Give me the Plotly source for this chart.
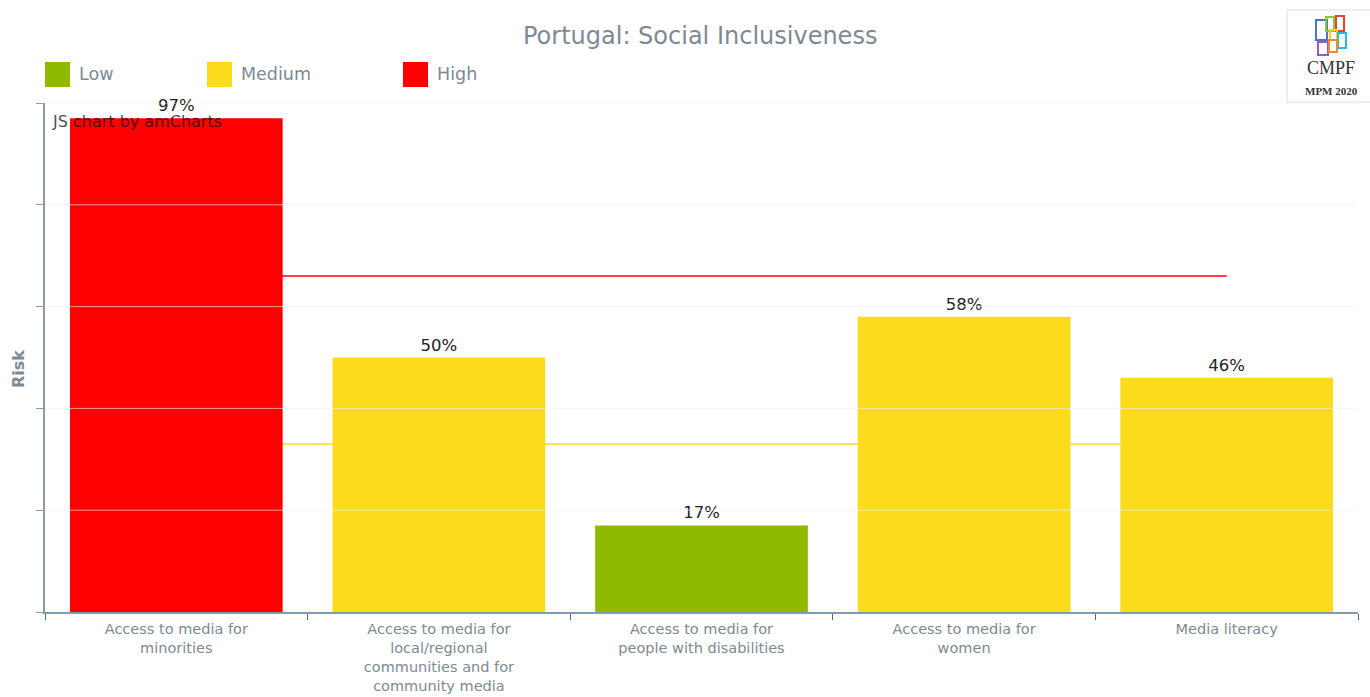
import plotly.graph_objects as go

categories = [
    "Access to media for<br>minorities",
    "Access to media for<br>local/regional<br>communities and for<br>community media",
    "Access to media for<br>people with disabilities",
    "Access to media for<br>women",
    "Media literacy",
]
risk_values = [97, 50, 17, 58, 46]
risk_levels = ["High", "Medium", "Low", "Medium", "Medium"]
level_names = ["Low", "Medium", "High"]
level_colors = {"Low": "#8fba00", "Medium": "#fbdb1c", "High": "#ff0000"}
threshold_high = 66
threshold_low = 33
grid_values = [20, 40, 60, 80, 100]

W, H = 1370, 697
ML, MR, MT, MB = 45, 12, 103, 85
PW, PH = W - ML - MR, H - MT - MB


def px(x):
    return (x - ML) / PW


def py(y):
    return (H - MB - y) / PH


GRAY = "#7d8a94"
FONT = "DejaVu Sans"

fig = go.Figure()

fig.add_trace(go.Bar(
    x=categories,
    y=risk_values,
    marker=dict(color=[level_colors[l] for l in risk_levels], line=dict(width=0)),
    texttemplate="%{y}%",
    textposition="outside",
    textfont=dict(size=16.5, color="#222222", family=FONT),
    cliponaxis=False,
    constraintext="none",
    showlegend=False,
    hoverinfo="skip",
))

shapes = []
# threshold lines under bars
for val, col in [(threshold_high, "#ff0000"), (threshold_low, "#fbdb1c")]:
    shapes.append(dict(type="line", xref="x", yref="y", layer="between",
                       x0=categories[0], x1=categories[-1], y0=val, y1=val,
                       line=dict(color=col, width=1.5)))
# grid lines above bars
for g in grid_values:
    shapes.append(dict(type="line", xref="paper", yref="y", layer="above",
                       x0=0, x1=1, y0=g, y1=g,
                       line=dict(color="rgba(238,238,238,0.65)", width=1)))

# legend squares
legend_x = [45, 207, 403]
annotations = []
for name, lx in zip(level_names, legend_x):
    shapes.append(dict(type="rect", xref="paper", yref="paper",
                       x0=px(lx), x1=px(lx + 25), y0=py(87), y1=py(62),
                       fillcolor=level_colors[name], line=dict(width=0)))
    annotations.append(dict(text=name, xref="paper", yref="paper",
                            x=px(lx + 32), y=py(74), xanchor="left", yanchor="middle",
                            showarrow=False, font=dict(size=17.5, color=GRAY, family=FONT)))

# logo box
shapes.append(dict(type="rect", xref="paper", yref="paper",
                   x0=px(1287), x1=px(1372), y0=py(102), y1=py(10),
                   line=dict(color="#dddddd", width=1), fillcolor="white"))
logo_parts = [
    (1316, 20, 1327, 40, "#4a78c8"),
    (1326, 17, 1334, 31, "#8cc63f"),
    (1336, 16, 1344, 31, "#e8413c"),
    (1330, 30, 1337, 40, "#f5d21e"),
    (1338, 33, 1346, 48, "#27b7e6"),
    (1318, 42, 1328, 55, "#9b59c8"),
    (1329, 40, 1337, 52, "#f08a24"),
]
for x0, y0, x1, y1, c in logo_parts:
    shapes.append(dict(type="rect", xref="paper", yref="paper",
                       x0=px(x0), x1=px(x1), y0=py(y1), y1=py(y0),
                       line=dict(color=c, width=2), fillcolor="rgba(0,0,0,0)"))
annotations.append(dict(text="CMPF", xref="paper", yref="paper", x=px(1331), y=py(68),
                        xanchor="center", yanchor="middle", showarrow=False,
                        font=dict(size=18, color="#333333", family="Liberation Serif")))
annotations.append(dict(text="<b>MPM 2020</b>", xref="paper", yref="paper", x=px(1331), y=py(91),
                        xanchor="center", yanchor="middle", showarrow=False,
                        font=dict(size=11, color="#333333", family="Liberation Serif")))

# title
annotations.append(dict(text="Portugal: Social Inclusiveness", xref="paper", yref="paper",
                        x=px(700), y=py(36), xanchor="center", yanchor="middle", showarrow=False,
                        font=dict(size=24, color=GRAY, family=FONT)))
# y axis title
annotations.append(dict(text="<b>Risk</b>", xref="paper", yref="paper",
                        x=px(18), y=py(369), xanchor="center", yanchor="middle", showarrow=False,
                        textangle=-90, font=dict(size=16, color=GRAY, family=FONT)))
# watermark
annotations.append(dict(text="JS chart by amCharts", xref="paper", yref="paper",
                        x=px(50), y=py(121), xanchor="left", yanchor="middle", showarrow=False,
                        font=dict(size=16, color="rgba(0,0,0,0.72)", family=FONT)))

fig.update_layout(
    width=W, height=H,
    margin=dict(l=ML, r=MR, t=MT, b=MB, autoexpand=False),
    paper_bgcolor="white", plot_bgcolor="white",
    bargap=0.19,
    showlegend=False,
    shapes=shapes,
    annotations=annotations,
    font=dict(family=FONT),
    xaxis=dict(
        showgrid=False, showline=True, linecolor="#7f9cb0", linewidth=1.5,
        ticks="outside", tickson="boundaries", ticklen=6, tickcolor="#4d6f8a",
        tickfont=dict(size=14.5, color=GRAY, family=FONT),
        ticklabelstandoff=3,
        automargin=False,
        zeroline=False, fixedrange=True,
    ),
    yaxis=dict(
        range=[0, 100], showgrid=False, showticklabels=False,
        tickvals=[0, 20, 40, 60, 80, 100],
        showline=True, linecolor="#8e9aa4", linewidth=1.5,
        ticks="outside", ticklen=7, tickcolor="#8e9aa4",
        automargin=False,
        zeroline=False, fixedrange=True,
    ),
)

fig.write_html("out.html", config={"displayModeBar": False},
               post_script="document.body.style.margin='0';document.body.style.overflow='hidden';")
